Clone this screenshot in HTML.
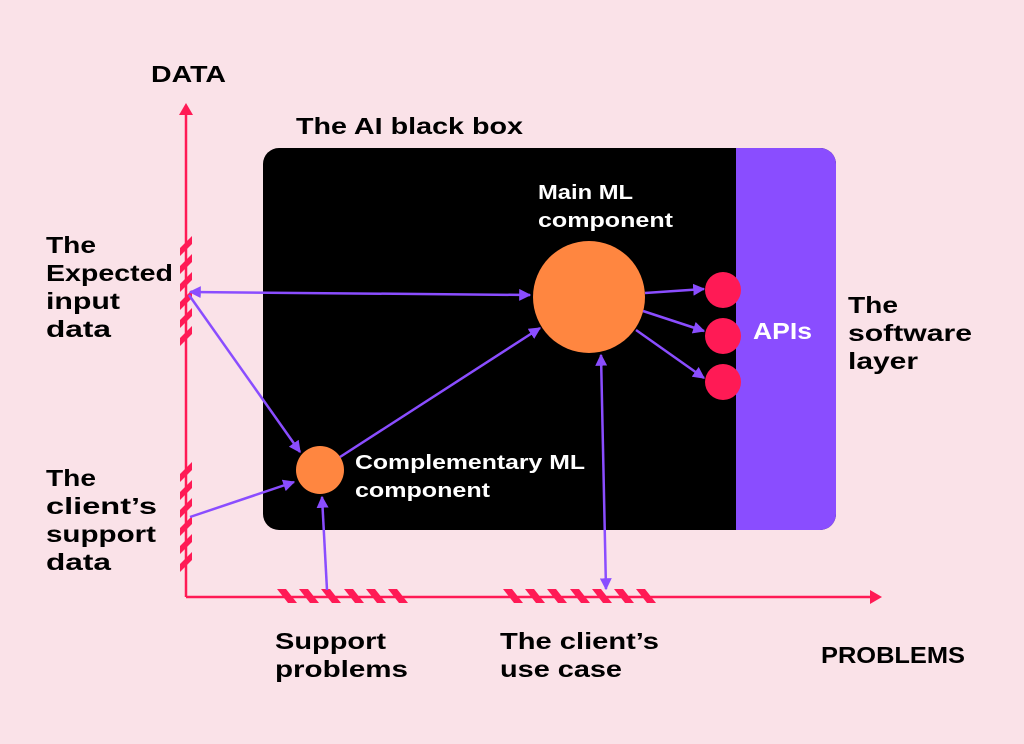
<!DOCTYPE html>
<html><head><meta charset="utf-8"><style>
html,body{margin:0;padding:0;background:#fae2e8;}
svg{display:block;}
text{font-family:"Liberation Sans",sans-serif;font-weight:bold;}
</style></head><body>
<svg width="1024" height="744" viewBox="0 0 1024 744" xmlns="http://www.w3.org/2000/svg">
<defs>
<marker id="ah" viewBox="0 0 10 10" refX="9" refY="5" markerWidth="12" markerHeight="12" markerUnits="userSpaceOnUse" orient="auto-start-reverse">
<path d="M0,0 L10,5 L0,10 z" fill="#8a4dff"/></marker>
</defs>
<rect width="1024" height="744" fill="#fae2e8"/>
<rect x="263" y="148" width="573" height="382" rx="16" fill="#000"/>
<path d="M736,148 H820 A16,16 0 0 1 836,164 V514 A16,16 0 0 1 820,530 H736 Z" fill="#8a4dff"/>
<line x1="186" y1="112" x2="186" y2="597" stroke="#ff1a55" stroke-width="2.5"/>
<path d="M179,115 L186,103 L193,115 Z" fill="#ff1a55"/>
<line x1="186" y1="597" x2="872" y2="597" stroke="#ff1a55" stroke-width="2.5"/>
<path d="M870,590 L882,597 L870,604 Z" fill="#ff1a55"/>
<g fill="#ff1a55">
<path d="M180,248 L192,236 L192,244 L180,256 Z"/><path d="M180,266 L192,254 L192,262 L180,274 Z"/><path d="M180,284 L192,272 L192,280 L180,292 Z"/><path d="M180,302 L192,290 L192,298 L180,310 Z"/><path d="M180,320 L192,308 L192,316 L180,328 Z"/><path d="M180,338 L192,326 L192,334 L180,346 Z"/>
<path d="M180,474 L192,462 L192,470 L180,482 Z"/><path d="M180,492 L192,480 L192,488 L180,500 Z"/><path d="M180,510 L192,498 L192,506 L180,518 Z"/><path d="M180,528 L192,516 L192,524 L180,536 Z"/><path d="M180,546 L192,534 L192,542 L180,554 Z"/><path d="M180,564 L192,552 L192,560 L180,572 Z"/>
<path d="M277,589 L286,589 L297,603 L288,603 Z"/><path d="M299,589 L308,589 L319,603 L310,603 Z"/><path d="M321,589 L330,589 L341,603 L332,603 Z"/><path d="M344,589 L353,589 L364,603 L355,603 Z"/><path d="M366,589 L375,589 L386,603 L377,603 Z"/><path d="M388,589 L397,589 L408,603 L399,603 Z"/>
<path d="M503,589 L512,589 L523,603 L514,603 Z"/><path d="M525,589 L534,589 L545,603 L536,603 Z"/><path d="M547,589 L556,589 L567,603 L558,603 Z"/><path d="M570,589 L579,589 L590,603 L581,603 Z"/><path d="M592,589 L601,589 L612,603 L603,603 Z"/><path d="M614,589 L623,589 L634,603 L625,603 Z"/><path d="M636,589 L645,589 L656,603 L647,603 Z"/>
</g>
<circle cx="589" cy="297" r="56" fill="#ff8640"/>
<circle cx="320" cy="470" r="24" fill="#ff8640"/>
<circle cx="723" cy="290" r="18" fill="#ff1a55"/>
<circle cx="723" cy="336" r="18" fill="#ff1a55"/>
<circle cx="723" cy="382" r="18" fill="#ff1a55"/>
<g stroke="#8a4dff" stroke-width="2.5" fill="none">
<line x1="190" y1="292" x2="530" y2="295" marker-start="url(#ah)" marker-end="url(#ah)"/>
<line x1="189" y1="295" x2="300" y2="452" marker-end="url(#ah)"/>
<line x1="190" y1="517" x2="294" y2="482" marker-end="url(#ah)"/>
<line x1="327" y1="590" x2="322" y2="497" marker-end="url(#ah)"/>
<line x1="340" y1="457" x2="540" y2="328" marker-end="url(#ah)"/>
<line x1="606" y1="589" x2="601" y2="355" marker-start="url(#ah)" marker-end="url(#ah)"/>
<line x1="645" y1="293" x2="704" y2="289" marker-end="url(#ah)"/>
<line x1="643" y1="311" x2="704" y2="331" marker-end="url(#ah)"/>
<line x1="636" y1="330" x2="704" y2="378" marker-end="url(#ah)"/>
</g>
<g font-size="23" fill="#000">
<text x="151" y="82" textLength="75" lengthAdjust="spacingAndGlyphs">DATA</text>
<text x="296" y="134" textLength="227" lengthAdjust="spacingAndGlyphs">The AI black box</text>
<text x="46" y="253" textLength="50" lengthAdjust="spacingAndGlyphs">The</text>
<text x="46" y="281" textLength="127" lengthAdjust="spacingAndGlyphs">Expected</text>
<text x="46" y="309" textLength="74" lengthAdjust="spacingAndGlyphs">input</text>
<text x="46" y="337" textLength="65" lengthAdjust="spacingAndGlyphs">data</text>
<text x="46" y="486" textLength="50" lengthAdjust="spacingAndGlyphs">The</text>
<text x="46" y="514" textLength="111" lengthAdjust="spacingAndGlyphs">client’s</text>
<text x="46" y="542" textLength="110" lengthAdjust="spacingAndGlyphs">support</text>
<text x="46" y="570" textLength="65" lengthAdjust="spacingAndGlyphs">data</text>
<text x="848" y="313" textLength="50" lengthAdjust="spacingAndGlyphs">The</text>
<text x="848" y="341" textLength="124" lengthAdjust="spacingAndGlyphs">software</text>
<text x="848" y="369" textLength="70" lengthAdjust="spacingAndGlyphs">layer</text>
<text x="275" y="649" textLength="111" lengthAdjust="spacingAndGlyphs">Support</text>
<text x="275" y="677" textLength="133" lengthAdjust="spacingAndGlyphs">problems</text>
<text x="500" y="649" textLength="159" lengthAdjust="spacingAndGlyphs">The client’s</text>
<text x="500" y="677" textLength="122" lengthAdjust="spacingAndGlyphs">use case</text>
<text x="821" y="663" textLength="144" lengthAdjust="spacingAndGlyphs">PROBLEMS</text>
</g>
<g font-size="20" fill="#fff">
<text x="538" y="199" textLength="95" lengthAdjust="spacingAndGlyphs">Main ML</text>
<text x="538" y="227" textLength="135" lengthAdjust="spacingAndGlyphs">component</text>
<text x="355" y="469" textLength="230" lengthAdjust="spacingAndGlyphs">Complementary ML</text>
<text x="355" y="497" textLength="135" lengthAdjust="spacingAndGlyphs">component</text>
<text x="753" y="339" font-size="23" textLength="59" lengthAdjust="spacingAndGlyphs">APIs</text>
</g>
</svg>
</body></html>
